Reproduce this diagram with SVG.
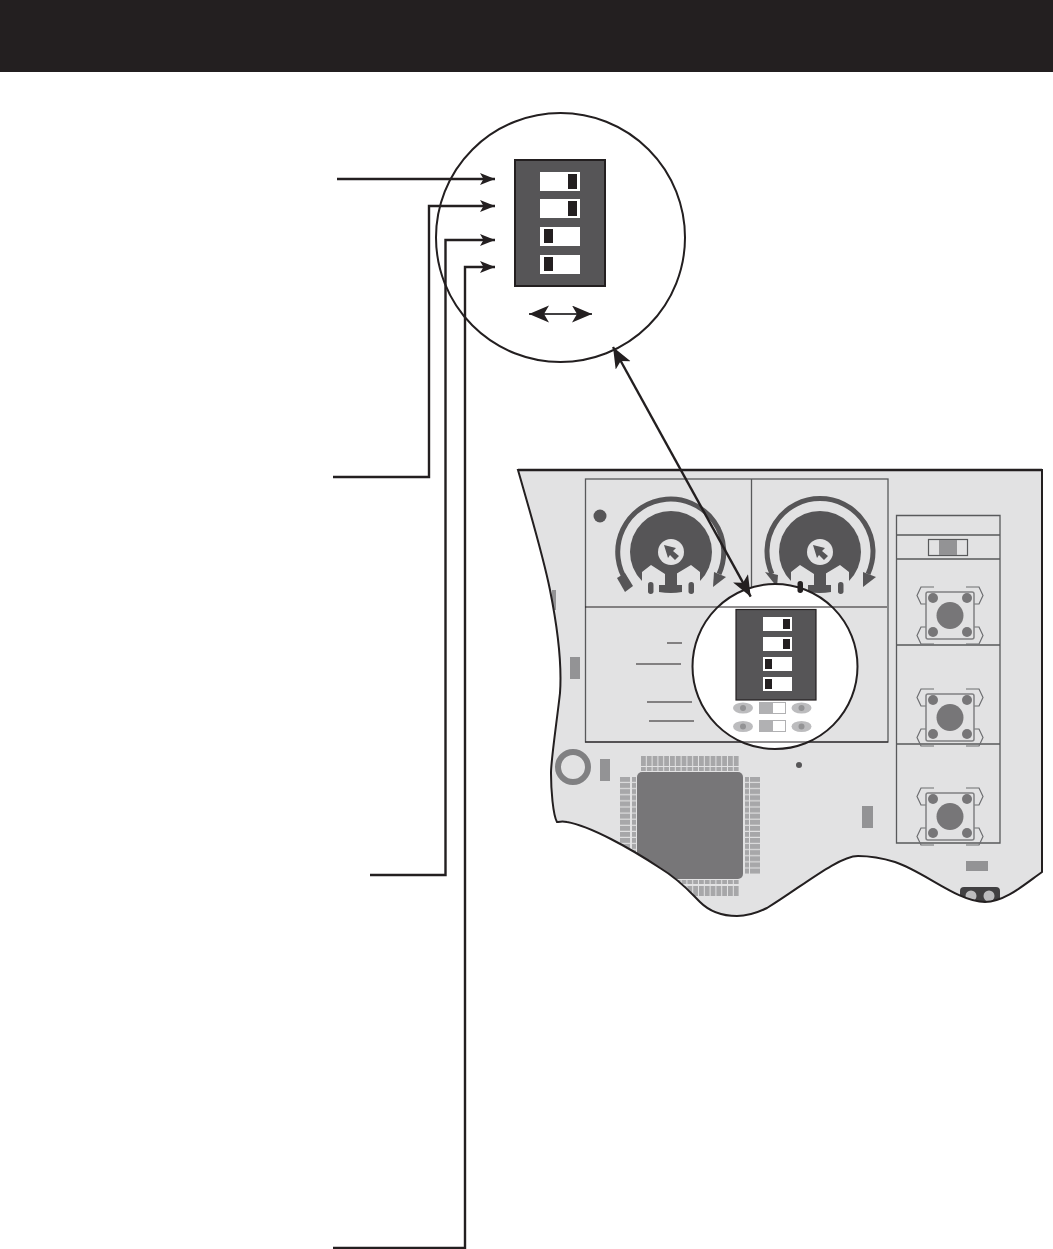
<svg xmlns="http://www.w3.org/2000/svg" xmlns:xlink="http://www.w3.org/1999/xlink" width="1053" height="1249" viewBox="0 0 1053 1249">
<style>
.ln{fill:none;stroke:#231f20;stroke-width:2.400}
.thin{fill:none;stroke:#231f20;stroke-width:1.200}
.pn{fill:none;stroke:#58595b;stroke-width:1.300}
.dk{fill:#565557}
.bg{fill:#e2e2e3}
.gr{fill:#939395}
.kn{fill:#231f20}
.wh{fill:#fff}
.arc{fill:none;stroke:#565557;stroke-width:5}
.lug{fill:none;stroke:#6d6e71;stroke-width:1.200}
.ov{fill:#bcbcbe}
.od{fill:#939395}
</style>
<defs>
<marker id="a" markerUnits="userSpaceOnUse" markerWidth="16" markerHeight="13" refX="15" refY="6" orient="auto"><path d="M0 0L15 6L0 12L3.500 6Z" fill="#231f20"/></marker>
<marker id="b" markerUnits="userSpaceOnUse" markerWidth="22" markerHeight="18" refX="21" refY="8.500" orient="auto-start-reverse"><path d="M0 0L21 8.500L0 17L5 8.500Z" fill="#231f20"/></marker>
<marker id="c" markerUnits="userSpaceOnUse" markerWidth="21" markerHeight="18" refX="20" refY="8.500" orient="auto-start-reverse"><path d="M0 0L20 8.500L0 17L5 8.500Z" fill="#231f20"/></marker>
<pattern id="ph" patternUnits="userSpaceOnUse" x="641" y="0" width="5.800" height="10"><rect width="4.800" height="10" fill="#a7a7a9"/></pattern>
<pattern id="pv" patternUnits="userSpaceOnUse" x="0" y="777" width="10" height="6.100"><rect width="10" height="5" fill="#a7a7a9"/></pattern>
<path id="bp" d="M518 470H1042V872C1025 884 1005 902 985 902C958 902 925 872 895 862C882 858 870 856 858 856C838 856 800 888 767 908C755 914 745 916 737 916C722 916 710 912 700 902C690 892 680 880 660 868C630 848 590 826 567 822C562 821 558 822 557 822C553 815 551 790 551 773C551 760 557 720 560 693C562 665 558 630 550 590C543 555 528 505 518 470Z"/>
<clipPath id="bc"><use xlink:href="#bp"/></clipPath>
<g id="btn">
<path class="lug" d="M934 587H921L917 595.500L921 604H926M966 587H979L983 595.500L979 604H974M934 644H921L917 635.500L921 627H926M966 644H979L983 635.500L979 627H974"/>
<rect x="926" y="592" width="48" height="47" rx="2" fill="#e2e2e3" stroke="#808082" stroke-width="1.500"/>
<circle cx="950" cy="615.500" r="13.500" fill="#777678"/>
<circle cx="933" cy="598" r="5" fill="#777678"/><circle cx="967" cy="598" r="5" fill="#777678"/><circle cx="933" cy="632" r="5" fill="#777678"/><circle cx="967" cy="632" r="5" fill="#777678"/>
</g>
<g id="trim">
<circle r="41" class="dk"/>
<path class="bg" d="M-29 20L-20 13L-6 22V33H5V22L20 13L29 20V46H-29Z"/>
<rect x="-6" y="20" width="12" height="16" class="dk"/>
<path class="dk" d="M-12 33H11V40Q0 42 -12 40Z"/>
<circle r="13" class="bg"/>
<path class="dk" d="M-7 -7L5 -4L2 -1L8 4L4 8L-1 3L-3 6Z"/>
</g>
</defs>

<rect id="header" x="0" y="0" width="1053" height="72" fill="#231f20"/>

<g id="board">
<use xlink:href="#bp" class="bg"/>
<g clip-path="url(#bc)">
<rect x="552" y="590" width="4" height="20" class="gr"/>
<rect x="570" y="657" width="10" height="22" class="gr"/>
<circle cx="573" cy="767" r="15" fill="none" stroke="#808082" stroke-width="6"/>
<rect x="600" y="759" width="10" height="22" class="gr"/>
<circle cx="799" cy="765" r="3" class="dk"/>
<rect x="862" y="806" width="11" height="22" class="gr"/>
<rect x="966" y="861" width="22" height="10" class="gr"/>
<rect x="960" y="887" width="40" height="20" rx="4" fill="#414042"/>
<circle cx="971" cy="896" r="5.500" fill="#bcbcbe"/><circle cx="989" cy="896" r="5.500" fill="#bcbcbe"/>
</g>
</g>

<g id="mcu" clip-path="url(#bc)">
<rect x="641" y="756" width="98" height="10" fill="url(#ph)"/>
<rect x="641" y="767" width="98" height="4" fill="url(#ph)"/>
<rect x="641" y="880" width="98" height="4" fill="url(#ph)"/>
<rect x="641" y="886" width="98" height="10" fill="url(#ph)"/>
<rect x="620" y="777" width="10" height="97" fill="url(#pv)"/>
<rect x="632" y="777" width="4" height="97" fill="url(#pv)"/>
<rect x="745" y="777" width="4" height="97" fill="url(#pv)"/>
<rect x="750" y="777" width="10" height="97" fill="url(#pv)"/>
<rect x="637" y="772" width="106" height="107" rx="5" fill="#777678"/>
</g>
<use id="board-outline" xlink:href="#bp" fill="none" stroke="#231f20" stroke-width="2"/>
<path d="M518 470H1042" stroke="#231f20" stroke-width="2.500" fill="none"/>

<g id="trimmers">
<circle cx="600" cy="516" r="6.500" class="dk"/>
<g id="trim-left">
<use xlink:href="#trim" transform="translate(671 552)"/>
<path class="arc" d="M627 582A53 53 0 1 1 719 574"/>
<path class="dk" d="M617 578L625 573L633 586L625 592Z"/>
<path class="dk" d="M714 572L726 577L713 587Z"/>
<rect x="648" y="582" width="5.500" height="12" rx="2.700" class="dk"/>
<rect x="688.500" y="582" width="5.500" height="12" rx="2.700" class="dk"/>
</g>
<g id="trim-right">
<use xlink:href="#trim" transform="translate(820 552)"/>
<path class="arc" d="M772 574A53 53 0 1 1 868 574"/>
<path class="dk" d="M765 572L778 575L777 587Z"/>
<path class="dk" d="M863 572L876 577L863 587Z"/>
<rect x="838" y="582" width="5.500" height="12" rx="2.700" class="dk"/>
</g>
</g>

<g id="panels">
<rect class="pn" x="585.500" y="479" width="302.500" height="263"/>
<path class="pn" d="M751.500 479V607"/>
<path class="pn" d="M896.500 515.500H1000V843H896.500ZM896.500 535H1000M896.500 559H1000M896.500 645H1000M896.500 744H1000"/>
<path class="thin" d="M667 643H682M636 664H681M647 702H692M649 721H694"/>
</g>

<g id="slide-switch">
<rect x="928.500" y="539.500" width="39" height="16" fill="#e2e2e3" stroke="#58595b" stroke-width="1.200"/>
<rect x="939" y="540" width="18" height="15" class="gr"/>
</g>

<g id="buttons">
<use xlink:href="#btn"/>
<use xlink:href="#btn" y="102"/>
<use xlink:href="#btn" y="201"/>
</g>

<g id="inset">
<circle cx="775" cy="666.500" r="82.500" fill="#fff" stroke="#231f20" stroke-width="2"/>
<rect x="736" y="609.500" width="80" height="90.500" class="dk" stroke="#231f20" stroke-width="1.200"/>
<rect x="763" y="617" width="29" height="14" class="wh"/><rect x="783" y="619" width="7" height="10" class="kn"/>
<rect x="763" y="637" width="29" height="14" class="wh"/><rect x="783" y="639" width="7" height="10" class="kn"/>
<rect x="763" y="657" width="29" height="14" class="wh"/><rect x="765" y="659" width="7" height="10" class="kn"/>
<rect x="763" y="677" width="29" height="14" class="wh"/><rect x="765" y="679" width="7" height="10" class="kn"/>
<ellipse cx="743" cy="708" rx="10" ry="5.500" class="ov"/><circle cx="743" cy="708" r="3" class="od"/>
<ellipse cx="801.500" cy="708" rx="10" ry="5.500" class="ov"/><circle cx="801.500" cy="708" r="3" class="od"/>
<ellipse cx="743" cy="726.500" rx="10" ry="5.500" class="ov"/><circle cx="743" cy="726.500" r="3" class="od"/>
<ellipse cx="801.500" cy="726.500" rx="10" ry="5.500" class="ov"/><circle cx="801.500" cy="726.500" r="3" class="od"/>
<rect x="759.500" y="702.500" width="26" height="11" fill="#fff" stroke="#b1b1b3"/><rect x="759" y="702" width="14" height="12" fill="#b1b1b3"/>
<rect x="759.500" y="720.500" width="26" height="11" fill="#fff" stroke="#b1b1b3"/><rect x="759" y="720" width="14" height="12" fill="#b1b1b3"/>
<path class="thin" d="M585 607H887M585 742H888"/>
<rect x="797.500" y="581" width="5.500" height="12" rx="2.700" fill="#231f20"/>
</g>

<g id="zoom-view">
<circle cx="560.500" cy="237.500" r="124.500" fill="#fff" stroke="#231f20" stroke-width="2"/>
<rect x="515" y="160" width="90" height="126" class="dk" stroke="#231f20" stroke-width="2"/>
<rect x="540" y="172" width="40" height="19" class="wh"/><rect x="568" y="174" width="9" height="15" class="kn"/>
<rect x="540" y="199" width="40" height="19" class="wh"/><rect x="568" y="201" width="9" height="15" class="kn"/>
<rect x="540" y="227" width="40" height="19" class="wh"/><rect x="544" y="229" width="9" height="14" class="kn"/>
<rect x="540" y="255" width="40" height="19" class="wh"/><rect x="544" y="257" width="9" height="14" class="kn"/>
</g>

<g id="connectors">
<path class="ln" marker-end="url(#a)" d="M337 179H495"/>
<path class="ln" marker-end="url(#a)" d="M333 477H429V206H495"/>
<path class="ln" marker-end="url(#a)" d="M370 875H445.500V240H495"/>
<path class="ln" marker-end="url(#a)" d="M333 1248H465V267H495"/>
<path fill="none" stroke="#414042" stroke-width="2" marker-start="url(#c)" marker-end="url(#c)" d="M529 314H592"/>
<path class="ln" marker-start="url(#b)" marker-end="url(#b)" d="M613 347L750.700 596.700"/>
</g>
</svg>
